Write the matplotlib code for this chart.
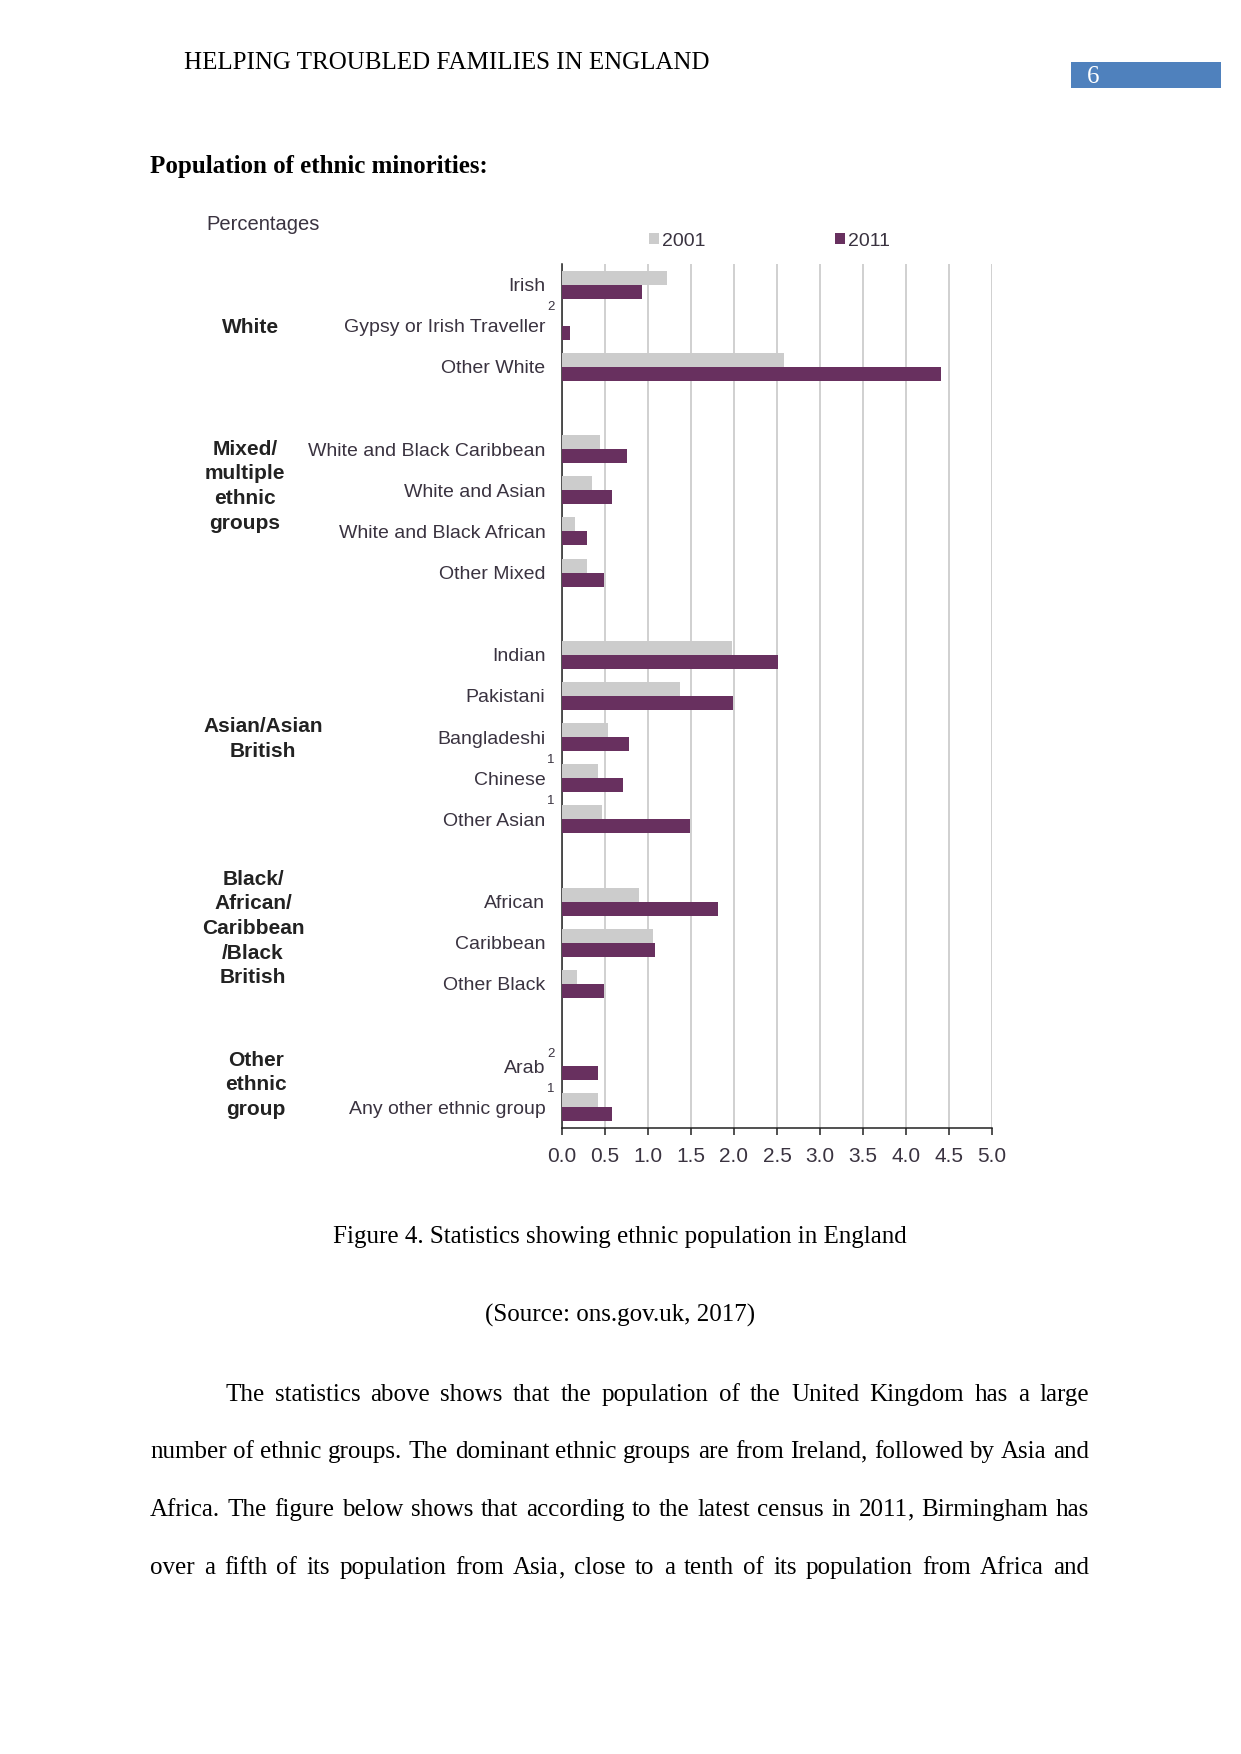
import matplotlib
matplotlib.use("Agg")
import matplotlib.pyplot as plt
from matplotlib.patches import Rectangle
from matplotlib.transforms import blended_transform_factory
import numpy as np

W, H = 1241, 1754

# chart data (percent of population of England and Wales)
categories = ["Irish", "Gypsy or Irish Traveller", "Other White", "",
              "White and Black Caribbean", "White and Asian",
              "White and Black African", "Other Mixed", "",
              "Indian", "Pakistani", "Bangladeshi", "Chinese", "Other Asian", "",
              "African", "Caribbean", "Other Black", "",
              "Arab", "Any other ethnic group"]
values_2001 = [1.22, 0, 2.58, 0,
               0.44, 0.35, 0.15, 0.29, 0,
               1.98, 1.37, 0.53, 0.42, 0.46, 0,
               0.90, 1.06, 0.17, 0,
               0, 0.42]
values_2011 = [0.93, 0.09, 4.41, 0,
               0.75, 0.58, 0.29, 0.49, 0,
               2.51, 1.99, 0.78, 0.71, 1.49, 0,
               1.81, 1.08, 0.49, 0,
               0.42, 0.58]
footnotes = {"Gypsy or Irish Traveller": "2", "Chinese": "1", "Other Asian": "1",
             "Arab": "2", "Any other ethnic group": "1"}
groups = ["White", "Mixed/\nmultiple\nethnic\ngroups", "Asian/Asian\nBritish",
          "Black/\nAfrican/\nCaribbean\n/Black\nBritish", "Other\nethnic\ngroup"]
group_rows = [1.04, 4.9, 11.05, 15.65, 19.45]
group_x = [251, 245, 263, 253, 256]
x_ticks = np.arange(0, 5.01, 0.5)

c2001 = "#cccccc"
c2011 = "#68305f"
txt = "#3a3340"
sans = "Liberation Sans"
serif = "Liberation Serif"


def fx(px):
    return px / W


def fy(py):
    return 1 - py / H


fig = plt.figure(figsize=(W / 100, H / 100), dpi=100)
fig.patch.set_facecolor("white")

# ---- chart ----
ax = fig.add_axes([fx(562), fy(1128), fx(992) - fx(562), fy(264) - fy(1128)])
rows = np.arange(len(categories))
bh = 0.34
ax.barh(rows - bh / 2, values_2001, height=bh, color=c2001, zorder=3, label="2001")
ax.barh(rows + bh / 2, values_2011, height=bh, color=c2011, zorder=3, label="2011")
ax.set_ylim(20.5, -0.5)
ax.set_xlim(0, 5)
ax.set_xticks(x_ticks, [f"{v:.1f}" for v in x_ticks])
ticked = [i for i, c in enumerate(categories) if c]
ax.set_yticks(ticked, [categories[i] for i in ticked])
ax.tick_params(axis="y", length=0, pad=12, labelsize=14, labelcolor=txt)
ax.tick_params(axis="x", length=5, width=1.1, color="#222222", pad=9,
               labelsize=15, labelcolor=txt)
for lab in ax.get_xticklabels() + ax.get_yticklabels():
    lab.set_family(sans)
ax.grid(axis="x", color="#c8c8c8", linewidth=1.2, zorder=0)
ax.set_axisbelow(True)
for s in ["top", "right"]:
    ax.spines[s].set_visible(False)
for s in ["left", "bottom"]:
    ax.spines[s].set_color("#222222")
    ax.spines[s].set_linewidth(1.1)

# footnote markers beside some category labels
tr = blended_transform_factory(fig.transFigure, ax.transData)
for name, mark in footnotes.items():
    r = categories.index(name)
    off = -0.3 if name == "Arab" else -0.45
    ax.text(fx(551), r + off, mark, transform=tr, fontsize=9.5, color=txt,
            family=sans, ha="center", va="center")

# group labels
for g, r, gx in zip(groups, group_rows, group_x):
    ax.text(fx(gx), r, g, transform=tr, fontsize=15, fontweight="bold",
            color="#222222", family=sans, ha="center", va="center",
            linespacing=1.38)

fig.text(fx(206), fy(225), "Percentages", fontsize=14.5, color=txt, family=sans,
         ha="left", va="center")
leg = ax.legend(loc="center left", bbox_to_anchor=(fx(649), fy(241)),
                bbox_transform=fig.transFigure, ncol=2, frameon=False,
                borderpad=0, borderaxespad=0, handlelength=0.5, handleheight=0.5,
                handletextpad=0.15, columnspacing=6.7,
                prop={"family": sans, "size": 14})
for t in leg.get_texts():
    t.set_color(txt)

# ---- page ----
fig.text(fx(184), fy(63), "HELPING TROUBLED FAMILIES IN ENGLAND", fontsize=18,
         family=serif, color="black", ha="left", va="center")
fig.patches.append(Rectangle((fx(1071), fy(88)), fx(1221) - fx(1071), fy(62) - fy(88),
                             transform=fig.transFigure, facecolor="#4f81bd",
                             edgecolor="none"))
fig.text(fx(1093), fy(77), "6", fontsize=18, family=serif, color="white",
         ha="center", va="center")
fig.text(fx(150), fy(166), "Population of ethnic minorities:", fontsize=18,
         fontweight="bold", family=serif, ha="left", va="center")
fig.text(fx(620), fy(1237), "Figure 4. Statistics showing ethnic population in England",
         fontsize=18, family=serif, ha="center", va="center")
fig.text(fx(620), fy(1315), "(Source: ons.gov.uk, 2017)", fontsize=18, family=serif,
         ha="center", va="center")

para = [
    "The statistics above shows that the population of the United Kingdom has a large",
    "number of ethnic groups. The dominant ethnic groups are from Ireland, followed by Asia and",
    "Africa. The figure below shows that according to the latest census in 2011, Birmingham has",
    "over a fifth of its population from Asia, close to a tenth of its population from Africa and",
]
line_y = [1393, 1450, 1508, 1566]
renderer = fig.canvas.get_renderer()


def put(s, py):
    return fig.text(0, fy(py + 8), s, fontsize=18, family=serif, ha="left",
                    va="baseline")


def width_of(s):
    t = put(s, 0)
    w = t.get_window_extent(renderer).width
    t.remove()
    return w


for i, (line, py) in enumerate(zip(para, line_y)):
    left = 225 if i == 0 else 150
    right = 1089
    words = line.split()
    # a word ending in a comma is drawn as its body plus a separate comma
    pieces = []
    for w in words:
        tail = "," if w.endswith(",") else ""
        body = w[:-1] if tail else w
        full_w = width_of(w)
        tail_w = width_of(tail) if tail else 0
        pieces.append((put(body, py), put(tail, py) if tail else None, full_w, tail_w))
    total = sum(p[2] for p in pieces)
    gap = (right - left - total) / (len(words) - 1)
    x = left
    for body_t, tail_t, full_w, tail_w in pieces:
        body_t.set_x(fx(x))
        if tail_t is not None:
            tail_t.set_x(fx(x + full_w - tail_w))
        x += full_w + gap

fig.savefig("out.png", dpi=100, facecolor="white")
